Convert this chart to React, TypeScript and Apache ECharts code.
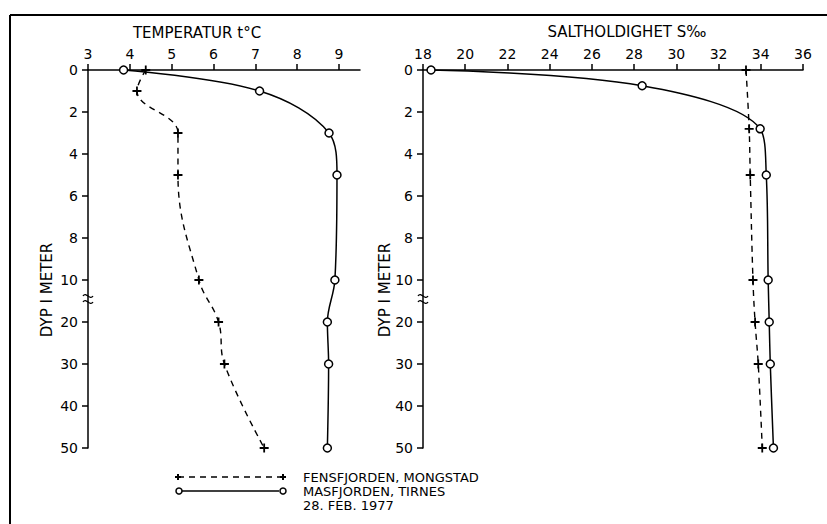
import React, { useEffect, useRef } from "react";
import * as echarts from "echarts";

const depthTicks = [0, 2, 4, 6, 8, 10, 20, 30, 40, 50];

const tempMasDepth = [0, 1, 3, 5, 10, 20, 30, 50];
const tempMas = [3.85, 7.1, 8.76, 8.95, 8.9, 8.72, 8.75, 8.72];
const tempFenDepth = [0, 1, 3, 5, 10, 20, 30, 50];
const tempFen = [4.38, 4.17, 5.15, 5.15, 5.65, 6.12, 6.26, 7.21];

const saltMasDepth = [0, 0.75, 2.8, 5, 10, 20, 30, 50];
const saltMas = [18.38, 28.38, 33.97, 34.26, 34.35, 34.4, 34.45, 34.6];
const saltFenDepth = [0, 2.8, 5, 10, 20, 30, 50];
const saltFen = [33.3, 33.45, 33.5, 33.63, 33.73, 33.88, 34.07];

const tempTicks = [3, 4, 5, 6, 7, 8, 9];
const saltTicks = [18, 20, 22, 24, 26, 28, 30, 32, 34, 36];

const legendFen = "FENSFJORDEN, MONGSTAD";
const legendMas = "MASFJORDEN, TIRNES";
const dateText = "28. FEB. 1977";

const FONT = "DejaVu Sans";

function depthPos(d: number): number {
  return d <= 10 ? d / 2 : 5 + (d - 10) / 10;
}

const PLUS = "path://M4,0h2v4h4v2h-4v4h-2v-4h-4v-2h4z";

function pts(xs: number[], ds: number[]) {
  return xs.map((x, i) => [x, depthPos(ds[i])]);
}

export default function App() {
  const ref = useRef<HTMLDivElement>(null);
  useEffect(() => {
    if (!ref.current) return;
    const chart = echarts.init(ref.current, null, { renderer: "svg" });
    const axisText = { color: "#000", fontSize: 14, fontFamily: FONT };
    const lineStyle = { color: "#000", width: 1.5 };
    const xAxisBase = {
      type: "value",
      position: "top",
      axisLine: { show: true, onZero: false, lineStyle },
      axisTick: { show: true, inside: false, length: 6, lineStyle },
      axisLabel: { ...axisText, margin: 9 },
      splitLine: { show: false },
    };
    const yAxisBase = {
      type: "value",
      min: 0,
      max: 9,
      interval: 1,
      inverse: true,
      axisLine: { show: true, onZero: false, lineStyle },
      axisTick: { show: true, inside: false, length: 6, lineStyle },
      axisLabel: {
        ...axisText,
        margin: 10,
        formatter: (v: number) => String(depthTicks[Math.round(v)]),
      },
      splitLine: { show: false },
    };
    const solid = {
      type: "line",
      smooth: 0.35,
      symbol: "circle",
      symbolSize: 8,
      itemStyle: { color: "#fff", borderColor: "#000", borderWidth: 1.5 },
      lineStyle: { color: "#000", width: 1.5 },
      z: 3,
    };
    const dashed = {
      type: "line",
      smooth: 0.4,
      symbol: PLUS,
      symbolSize: 9,
      itemStyle: { color: "#000" },
      lineStyle: { color: "#000", width: 1.4, type: [6, 5] },
      z: 2,
    };
    const breakMark = (x: number, y: number) => [
      {
        type: "bezierCurve",
        shape: { x1: x - 5, y1: y, x2: x + 5, y2: y, cpx1: x - 2, cpy1: y - 5, cpx2: x + 2, cpy2: y + 5 },
        style: { stroke: "#000", lineWidth: 1.3, fill: null },
      },
      {
        type: "bezierCurve",
        shape: { x1: x - 5, y1: y + 6, x2: x + 5, y2: y + 6, cpx1: x - 2, cpy1: y + 1, cpx2: x + 2, cpy2: y + 11 },
        style: { stroke: "#000", lineWidth: 1.3, fill: null },
      },
    ];
    const txt = (text: string, x: number, y: number, align = "left", rotation = 0, size = 14) => ({
      type: "text",
      x,
      y,
      rotation,
      style: { text, fill: "#000", font: `${size}px "${FONT}"`, align, verticalAlign: "middle" },
    });
    chart.setOption({
      animation: false,
      backgroundColor: "#fff",
      grid: [
        { left: 88, top: 70, width: 272, height: 378 },
        { left: 423, top: 70, width: 380, height: 378 },
      ],
      xAxis: [
        {
          ...xAxisBase,
          gridIndex: 0,
          min: 3,
          max: 9.5,
          interval: 1,
          axisTick: { ...xAxisBase.axisTick, customValues: tempTicks },
          axisLabel: { ...xAxisBase.axisLabel, customValues: tempTicks },
        },
        {
          ...xAxisBase,
          gridIndex: 1,
          min: 18,
          max: 36,
          interval: 2,
          axisTick: { ...xAxisBase.axisTick, customValues: saltTicks },
          axisLabel: { ...xAxisBase.axisLabel, customValues: saltTicks },
        },
      ],
      yAxis: [
        { ...yAxisBase, gridIndex: 0 },
        { ...yAxisBase, gridIndex: 1 },
      ],
      series: [
        { ...dashed, name: legendFen, xAxisIndex: 0, yAxisIndex: 0, data: pts(tempFen, tempFenDepth) },
        { ...solid, name: legendMas, xAxisIndex: 0, yAxisIndex: 0, data: pts(tempMas, tempMasDepth) },
        { ...dashed, name: legendFen, xAxisIndex: 1, yAxisIndex: 1, data: pts(saltFen, saltFenDepth) },
        { ...solid, name: legendMas, xAxisIndex: 1, yAxisIndex: 1, data: pts(saltMas, saltMasDepth) },
      ],
      graphic: [
        { type: "line", shape: { x1: 10, y1: 15, x2: 827, y2: 15 }, style: { stroke: "#000", lineWidth: 2 } },
        { type: "line", shape: { x1: 10, y1: 15, x2: 10, y2: 524 }, style: { stroke: "#000", lineWidth: 2 } },
        txt("TEMPERATUR t°C", 197, 33, "center", 0, 15),
        txt("SALTHOLDIGHET S‰", 627, 32, "center", 0, 15),
        txt("DYP I METER", 47, 290, "center", Math.PI / 2, 15),
        txt("DYP I METER", 385, 290, "center", Math.PI / 2, 15),
        ...breakMark(88, 296),
        ...breakMark(423, 296),
        { type: "line", shape: { x1: 178, y1: 477, x2: 283, y2: 477 }, style: { stroke: "#000", lineWidth: 1.4, lineDash: [6, 5] } },
        { type: "line", shape: { x1: 175, y1: 477, x2: 181, y2: 477 }, style: { stroke: "#000", lineWidth: 2 } },
        { type: "line", shape: { x1: 178, y1: 474, x2: 178, y2: 480 }, style: { stroke: "#000", lineWidth: 2 } },
        { type: "line", shape: { x1: 280, y1: 477, x2: 286, y2: 477 }, style: { stroke: "#000", lineWidth: 2 } },
        { type: "line", shape: { x1: 283, y1: 474, x2: 283, y2: 480 }, style: { stroke: "#000", lineWidth: 2 } },
        { type: "line", shape: { x1: 182, y1: 491, x2: 279, y2: 491 }, style: { stroke: "#000", lineWidth: 1.5 } },
        { type: "circle", shape: { cx: 179, cy: 491, r: 3 }, style: { stroke: "#000", lineWidth: 1.5, fill: "#fff" } },
        { type: "circle", shape: { cx: 283, cy: 491, r: 3 }, style: { stroke: "#000", lineWidth: 1.5, fill: "#fff" } },
        txt(legendFen, 303, 477, "left", 0, 13),
        txt(legendMas, 303, 491, "left", 0, 13),
        txt(dateText, 303, 505, "left", 0, 13),
      ],
    });
    return () => chart.dispose();
  }, []);
  return <div ref={ref} style={{ position: "fixed", left: 0, top: 0, width: 827, height: 524 }} />;
}
